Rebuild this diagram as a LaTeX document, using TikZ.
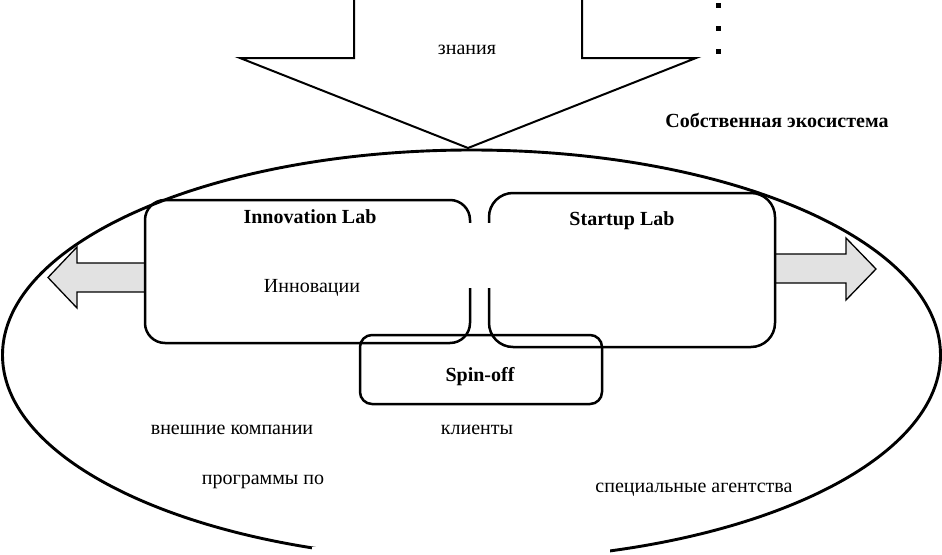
\documentclass[tikz,border=0pt]{standalone}
\usepackage{fontspec}
\setmainfont{Liberation Serif}
\usetikzlibrary{calc}
\begin{document}
\begin{tikzpicture}[x=1pt,y=-1pt,
  box/.style={draw,line width=2.5pt,rounded corners=20pt,inner sep=0pt},
  garrow/.style={draw,line width=1.3pt,fill={rgb,255:red,226;green,226;blue,226},line join=miter},
  lbl/.style={font=\fontsize{20}{24}\selectfont,anchor=base,inner sep=0pt},
  blbl/.style={font=\fontsize{20}{24}\selectfont\bfseries,anchor=base,inner sep=0pt}]
\useasboundingbox (0,0) rectangle (942,554);
% ecosystem ellipse
\draw[line width=2.9pt] (471.5,355) ellipse [x radius=469, y radius=205];
% big downward arrow
\coordinate (dtip) at (468,148);
\draw[line width=2pt,line join=miter] (354,-3) -- (354,58) -- (240,58) -- (dtip) -- (696,58) -- (582,58) -- (582,-3);
% bullets
\fill (715.5,2.5) rectangle +(5.5,5.5);
\fill (715.5,25.5) rectangle +(5.5,5.5);
\fill (715.5,48.5) rectangle +(5.5,5.5);
% box positions
\coordinate (innoW) at (145,271.5);
\coordinate (startE) at (775,270);
% gray side arrows
\coordinate (ltip) at (48,277.5);
\draw[garrow] ($(innoW)+(0,-8.5)$) -- (77,263) -- (77,247) -- (ltip) -- (77,308) -- (77,292) -- ($(innoW)+(0,20.5)$) -- cycle;
\coordinate (rtip) at (876,269);
\draw[garrow] ($(startE)+(0,-16)$) -- (846,254) -- (846,238) -- (rtip) -- (846,300) -- (846,283) -- ($(startE)+(0,13)$) -- cycle;
% boxes
\node[box,minimum width=325pt,minimum height=143pt] (inno) at (307.5,271.5) {};
\node[box,rounded corners=24pt,minimum width=286pt,minimum height=154pt] (start) at (632,270) {};
\node[box,rounded corners=12pt,minimum width=242pt,minimum height=69pt] (spin) at (481,369.5) {};
% blank patches as in the reference
\fill[white] (465,223) rectangle (494,288);
\fill[white] (312,547) rectangle (610,556);
% texts
\node[blbl] (own) at (777,127) {Собственная экосистема};
\node[lbl] (zn) at (467,54) {знания};
\node[blbl] (innot) at (310,223) {Innovation Lab};
\node[lbl] (innoi) at (312,292) {Инновации};
\node[blbl] (stt) at (622,225) {Startup Lab};
\node[blbl] (spt) at (480,381) {Spin-off};
\node[lbl] (ext) at (232,434) {внешние компании};
\node[lbl] (cli) at (477,434) {клиенты};
\node[lbl] (prog) at (263,484) {программы по};
\node[lbl] (agen) at (694,492) {специальные агентства};
\end{tikzpicture}
\end{document}
